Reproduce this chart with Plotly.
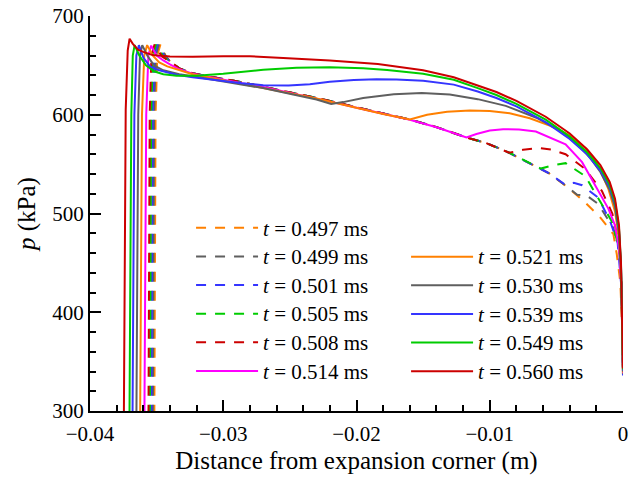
import plotly.graph_objects as go

# ---- data ----
x_0497 = [-0.03522, -0.03517, -0.03508, -0.03495, -0.03472, -0.0343, -0.0340, -0.0333, -0.0323, -0.0310, -0.0290, -0.0270, -0.0251, -0.0230, -0.0214, -0.0200, -0.0180, -0.0160, -0.0140, -0.01175, -0.01026, -0.00877, -0.00729, -0.00558, -0.00409, -0.00283, -0.00171, -0.00072, -0.00047, -0.0002, -0.00005, 0.0]
p_0497 = [200, 300, 600, 660, 671, 659, 654, 647, 642, 638.5, 634, 628.5, 623, 617, 612, 607.3, 601.3, 595.2, 587.5, 577, 571.3, 563, 553, 541, 526, 511, 496, 479, 459, 430, 380, 335]

x_0499 = [-0.03533, -0.03528, -0.03519, -0.03506, -0.03483, -0.0343, -0.0340, -0.0333, -0.0323, -0.0310, -0.0290, -0.0270, -0.0251, -0.0230, -0.0214, -0.0200, -0.0180, -0.0160, -0.0140, -0.01175, -0.01026, -0.00877, -0.00729, -0.00558, -0.00409, -0.00344, -0.0027, -0.00186, -0.00074, -0.0003, -0.0001, 0.0]
p_0499 = [200, 300, 600, 660, 671, 659, 654, 647, 642, 638.5, 634, 628.5, 623, 617, 612, 607.3, 601.3, 595.2, 587.5, 577, 571.3, 563, 553, 541, 526, 519, 518, 509.6, 485.7, 465, 425, 335]

x_0501 = [-0.03544, -0.03539, -0.0353, -0.03517, -0.03494, -0.0344, -0.0340, -0.0333, -0.0323, -0.0310, -0.0290, -0.0270, -0.0251, -0.0230, -0.0214, -0.0200, -0.0180, -0.0160, -0.0140, -0.01175, -0.01026, -0.00877, -0.00729, -0.00558, -0.00431, -0.0037, -0.00307, -0.00186, -0.00097, -0.0004, -0.00012, 0.0]
p_0501 = [200, 300, 600, 660, 671, 659, 654, 647, 642, 638.5, 634, 628.5, 623, 617, 612, 607.3, 601.3, 595.2, 587.5, 577, 571.3, 563, 553, 541, 529, 531, 528.7, 516, 492.4, 470, 425, 336]

x_0505 = [-0.03555, -0.0355, -0.03541, -0.03528, -0.03505, -0.0345, -0.0340, -0.0333, -0.0323, -0.0310, -0.0290, -0.0270, -0.0251, -0.0230, -0.0214, -0.0200, -0.0180, -0.0160, -0.0140, -0.01175, -0.01026, -0.00877, -0.00729, -0.00617, -0.0052, -0.00431, -0.00283, -0.00158, -0.00084, -0.0003, -0.0001, 0.0]
p_0505 = [200, 300, 600, 660, 671, 659, 654, 647, 642, 638.5, 634, 628.5, 623, 617, 612, 607.3, 601.3, 595.2, 587.5, 577, 571.3, 563, 553, 545.5, 549, 551, 537.8, 509.6, 492, 465, 425, 337]

x_0508 = [-0.03566, -0.03561, -0.03552, -0.03539, -0.03516, -0.0346, -0.0340, -0.0333, -0.0323, -0.0310, -0.0290, -0.0270, -0.0251, -0.0230, -0.0214, -0.0200, -0.0180, -0.0160, -0.0140, -0.01175, -0.01026, -0.00855, -0.0075, -0.00632, -0.0053, -0.00431, -0.00283, -0.00158, -0.0008, -0.0003, -0.0001, 0.0]
p_0508 = [200, 300, 600, 660, 671, 659, 654, 647, 642, 638.5, 634, 628.5, 623, 617, 612, 607.3, 601.3, 595.2, 587.5, 577, 571.3, 561.5, 564.5, 566.3, 564.5, 560, 545, 522.7, 500, 470, 430, 338]

x_0514 = [-0.03596, -0.03591, -0.03578, -0.03562, -0.03541, -0.0350, -0.0345, -0.0340, -0.0333, -0.0323, -0.0310, -0.0290, -0.0270, -0.0251, -0.0230, -0.0214, -0.0200, -0.0180, -0.0160, -0.0140, -0.01175, -0.0110, -0.0100, -0.0090, -0.0078, -0.00654, -0.00431, -0.00307, -0.00186, -0.0011, -0.0006, -0.0003, -0.00012, 0.0]
p_0514 = [200, 300, 600, 660, 670, 660, 655, 651, 646, 641.5, 638, 633, 628, 622.5, 616.5, 611.5, 607, 601, 595, 587.3, 577, 580.5, 584, 585.4, 585, 583, 570, 552, 524, 505, 488, 465, 425, 338]

x_0521 = [-0.03628, -0.03623, -0.0361, -0.03593, -0.03571, -0.0353, -0.0348, -0.0342, -0.0333, -0.0323, -0.0310, -0.0290, -0.0270, -0.0251, -0.0230, -0.0214, -0.0200, -0.0180, -0.0160, -0.0153, -0.0147, -0.0132, -0.0115, -0.0100, -0.0085, -0.0070, -0.0055, -0.0041, -0.0028, -0.0018, -0.0011, -0.0006, -0.0003, -0.00015, -0.00005, 0.0]
p_0521 = [200, 300, 600, 660, 670.5, 660, 653, 649, 645, 641, 637.5, 632.5, 627.5, 622, 616.5, 611.5, 606.8, 600.8, 595.2, 597.5, 600, 603, 604.3, 603.8, 601.5, 596.5, 589, 580, 566, 547, 525, 502, 476, 442, 390, 339]

x_0530 = [-0.03656, -0.03651, -0.03638, -0.03625, -0.03608, -0.0357, -0.0352, -0.0345, -0.0333, -0.0323, -0.0310, -0.0290, -0.0270, -0.0251, -0.0230, -0.0219, -0.0210, -0.0195, -0.0172, -0.0151, -0.0130, -0.0109, -0.0088, -0.0065, -0.0046, -0.0035, -0.0025, -0.0017, -0.0010, -0.0006, -0.0003, -0.00015, -0.00005, 0.0]
p_0530 = [200, 300, 600, 660, 670.5, 660, 650, 645, 641, 639, 636, 631.5, 627, 621.5, 615.5, 611, 612.8, 617, 620.8, 622, 620.5, 615.8, 609, 597, 583, 571, 557, 542, 524, 507, 480, 444, 390, 340]

x_0539 = [-0.03685, -0.0368, -0.03667, -0.03652, -0.03633, -0.0360, -0.0355, -0.0348, -0.0335, -0.0323, -0.0300, -0.0286, -0.0270, -0.0251, -0.0235, -0.0220, -0.0202, -0.0185, -0.0170, -0.0150, -0.0127, -0.0109, -0.0095, -0.0080, -0.0058, -0.0040, -0.0027, -0.0017, -0.0010, -0.0006, -0.0003, -0.00015, -0.00005, 0.0]
p_0539 = [200, 300, 600, 660, 670.5, 658, 649, 645, 640.5, 638, 634, 632, 630, 629.5, 631, 633.5, 635.2, 636, 635.8, 634.5, 630.5, 623.5, 617, 608.5, 592.5, 575.5, 560, 543.5, 527, 510, 483, 446, 391, 341]

x_0549 = [-0.03708, -0.03703, -0.0369, -0.03679, -0.03665, -0.0363, -0.0358, -0.0352, -0.0345, -0.0335, -0.0320, -0.0300, -0.0270, -0.0245, -0.0220, -0.0195, -0.0177, -0.0150, -0.0127, -0.0109, -0.0095, -0.0080, -0.0058, -0.0040, -0.0027, -0.0017, -0.0010, -0.0006, -0.0003, -0.00015, -0.00005, 0.0]
p_0549 = [200, 300, 600, 660, 670.5, 660, 650, 644, 641, 639.5, 639.5, 641.5, 645.5, 647.5, 648, 647, 645.3, 641.5, 635.5, 627, 620, 611, 595, 578, 562, 546, 529, 512, 485, 448, 393, 342]

x_0560 = [-0.0375, -0.03745, -0.03732, -0.03717, -0.03703, -0.0368, -0.0364, -0.0360, -0.0353, -0.0340, -0.0323, -0.0300, -0.0280, -0.0255, -0.0220, -0.0184, -0.0150, -0.0127, -0.0109, -0.0095, -0.0080, -0.0058, -0.0040, -0.0027, -0.0017, -0.0010, -0.0006, -0.0003, -0.00015, -0.00005, 0.0]
p_0560 = [200, 300, 605, 665, 677, 672, 666, 663.7, 660.4, 659, 658.7, 659.2, 659.3, 657.5, 655, 651.3, 645, 638, 630, 623, 614, 598, 581, 565, 549, 532, 515, 488, 450, 395, 343]

labels = ["0.497", "0.499", "0.501", "0.505", "0.508", "0.514",
          "0.521", "0.530", "0.539", "0.549", "0.560"]
colors = ["#ff8000", "#5f5f5f", "#3535ff", "#00cc00", "#cc0000", "#ff00ff",
          "#ff8000", "#5f5f5f", "#3535ff", "#00cc00", "#cc0000"]
styles = ["dash"] * 5 + ["solid"] * 6
xs = [x_0497, x_0499, x_0501, x_0505, x_0508, x_0514, x_0521, x_0530, x_0539, x_0549, x_0560]
ps = [p_0497, p_0499, p_0501, p_0505, p_0508, p_0514, p_0521, p_0530, p_0539, p_0549, p_0560]

x_ticks = [-0.04, -0.03, -0.02, -0.01, 0.0]
x_ticktext = ["\u22120.04", "\u22120.03", "\u22120.02", "\u22120.01", "0"]
y_ticks = [300, 400, 500, 600, 700]

FONT = "Liberation Serif"

fig = go.Figure()
for i in range(len(labels)):
    dash = "10px,9px" if styles[i] == "dash" else "solid"
    fig.add_trace(go.Scatter(
        x=xs[i], y=ps[i], mode="lines",
        line=dict(color=colors[i], width=2, dash=dash),
        name='<span style="font-size:21px"><i>t</i> = ' + labels[i] + " ms</span>",
        legend="legend" if i < 6 else "legend2",
    ))

axis_common = dict(
    showline=True, linecolor="black", linewidth=2,
    ticks="inside", ticklen=11, tickwidth=2, tickcolor="black",
    showgrid=False, zeroline=False,
    tickfont=dict(family=FONT, size=21, color="black"),
)

fig.update_layout(
    width=632, height=481,
    margin=dict(l=90, r=4, t=14, b=70),
    paper_bgcolor="white", plot_bgcolor="white",
    font=dict(family=FONT, color="black"),
    xaxis=dict(
        range=[-0.04, 0], tickvals=x_ticks, ticktext=x_ticktext,
        ticklabeloverflow="allow", ticklabelstandoff=3,
        minor=dict(ticks="inside", ticklen=6, tickwidth=1.5, tickcolor="black", dtick=0.002, tick0=0),
        title=dict(text="Distance from expansion corner (m)", font=dict(family=FONT, size=25), standoff=6),
        **axis_common,
    ),
    yaxis=dict(
        range=[300, 700], tickvals=y_ticks,
        minor=dict(ticks="inside", ticklen=6, tickwidth=1.5, tickcolor="black", dtick=20, tick0=300),
        title=dict(text="<i>p</i> (kPa)", font=dict(family=FONT, size=25), standoff=10),
        **axis_common,
    ),
    legend=dict(x=0.1896, y=0.5126, xanchor="left", yanchor="top",
                bgcolor="rgba(0,0,0,0)", borderwidth=0, itemwidth=62,
                font=dict(family=FONT, size=19.7, color="black"), tracegroupgap=0),
    legend2=dict(x=0.593, y=0.4395, xanchor="left", yanchor="top",
                 bgcolor="rgba(0,0,0,0)", borderwidth=0, itemwidth=62,
                 font=dict(family=FONT, size=19.7, color="black"), tracegroupgap=0),
    showlegend=True,
)

fig.write_html("out.html")
